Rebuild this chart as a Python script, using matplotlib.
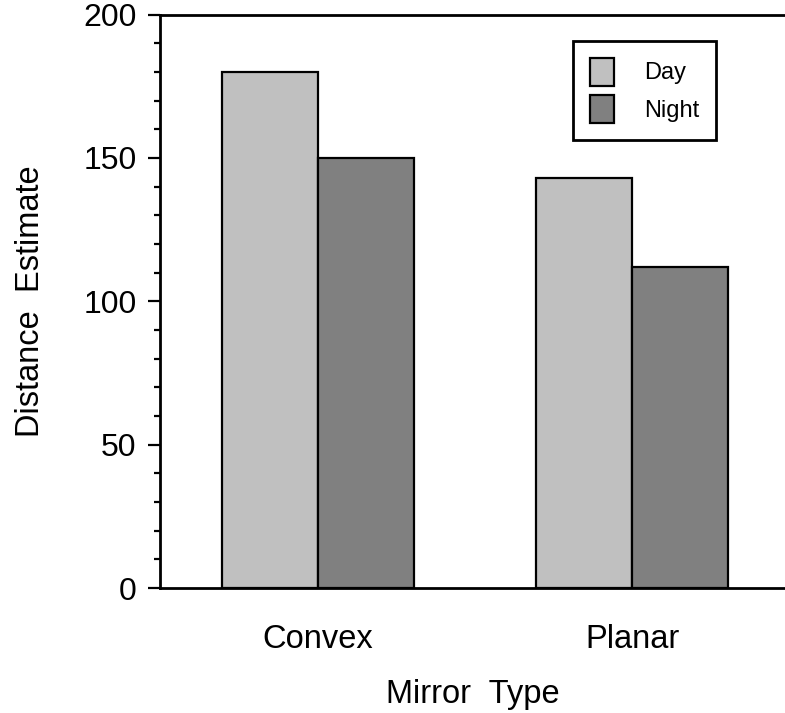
import numpy as np
import matplotlib
matplotlib.use("Agg")
import matplotlib.pyplot as plt
from matplotlib.ticker import MultipleLocator

plt.rcParams['font.family'] = ['Liberation Sans', 'DejaVu Sans']

# data
categories = ["Convex", "Planar"]
day = [180, 143]
night = [150, 112]
series_names = ["Day", "Night"]
colors = ["#c0c0c0", "#808080"]

fig = plt.figure(figsize=(7.85, 7.13), dpi=100)
ax = fig.add_axes([160 / 785, 125 / 713, 625 / 785, 573.5 / 713])

x = np.arange(len(categories))
w = 0.306
ax.bar(x - w / 2, day, w, color=colors[0], edgecolor="black", linewidth=1.6, label=series_names[0])
ax.bar(x + w / 2, night, w, color=colors[1], edgecolor="black", linewidth=1.6, label=series_names[1])

ax.set_xlim(-0.503, 1.487)
ax.set_ylim(0, 200)
ax.set_xticks(x)
ax.set_xticklabels(categories)
ax.yaxis.set_major_locator(MultipleLocator(50))
ax.yaxis.set_minor_locator(MultipleLocator(10))

ax.spines["right"].set_visible(False)
for s in ["left", "bottom", "top"]:
    ax.spines[s].set_linewidth(2)

ax.tick_params(axis="y", which="major", direction="out", length=9, width=1.6, labelsize=23, pad=8)
ax.tick_params(axis="y", which="minor", direction="out", length=4.5, width=1.6)
ax.tick_params(axis="x", which="both", length=0, labelsize=23.5, pad=26)

ax.set_xlabel("Mirror  Type", fontsize=23.5, labelpad=17)
ax.set_ylabel("Distance  Estimate", fontsize=23.5, labelpad=27)

leg = ax.legend(loc="upper left", bbox_to_anchor=(573 / 785, 1 - 41 / 713),
                bbox_transform=fig.transFigure, fontsize=17, frameon=True,
                fancybox=False, shadow=False, handlelength=1.05, handleheight=1.45,
                handletextpad=1.25, borderpad=0.7, labelspacing=0.4,
                borderaxespad=0)
leg.get_frame().set_edgecolor("black")
leg.get_frame().set_linewidth(2)
leg.get_frame().set_alpha(1)

fig.savefig("out.png", dpi=100)
